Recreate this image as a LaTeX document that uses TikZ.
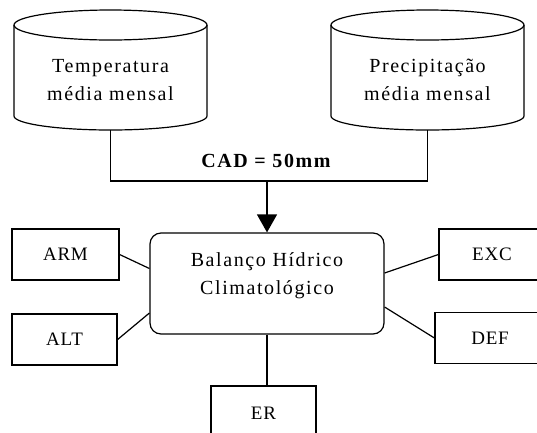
\documentclass[tikz,border=0pt]{standalone}
\usepackage{fontspec}
\setmainfont[LetterSpace=8]{Liberation Serif}
\newfontfamily\boxfont[LetterSpace=4]{Liberation Serif}
\usetikzlibrary{calc,arrows.meta}
\tikzset{
  x=1pt, y=-1pt,
  ln/.style={line width=1.2pt, black},
  lbl/.style={font=\fontsize{20}{28}\selectfont, align=center, inner sep=0pt},
  sbox/.style={ln, draw, rectangle, minimum width=#1, minimum height=51pt, inner sep=0pt, font=\boxfont\fontsize{19}{24}\selectfont},
  bhcbox/.style={ln, draw, rectangle, rounded corners=11pt, minimum width=234pt, minimum height=101pt, inner sep=0pt},
}
\begin{document}
\begin{tikzpicture}
\useasboundingbox (0,0) rectangle (537,432);
\clip (0,0) rectangle (537,432);
% cylinders
\foreach \cx/\nm in {110.5/tc, 427.5/pc}{
  \draw[ln] (\cx,25) ellipse [x radius=96.5, y radius=15];
  \draw[ln] (\cx-96.5,25) -- (\cx-96.5,116) arc[start angle=180, end angle=360, x radius=96.5, y radius=-14] -- (\cx+96.5,25);
  \coordinate (\nm) at (\cx,130);
}
\node[lbl] (tt) at (110.5,80) {Temperatura\\média mensal};
\node[lbl] (pt) at (427.5,80) {Precipitação\\média mensal};
% junction
\coordinate (j) at (267,181);
\draw[ln] (tc) |- (j) -| (pc);
\node[lbl, font=\fontsize{20}{22}\selectfont\bfseries] (cad) at (266,161) {CAD = 50mm};
% central box
\node[bhcbox] (bhc) at (267,283.5) {};
\node[lbl] (bhct) at (267,276) {Balanço Hídrico\\Climatológico};
\draw[ln, -{Triangle[width=20pt,length=18pt]}] (j) -- (bhc.north);
% side boxes
\node[sbox=107pt] (arm) at (65.5,254.5) {ARM};
\node[sbox=105pt] (alt) at (64.5,339.5) {ALT};
\node[sbox=106pt] (exc) at (492,254.5) {EXC};
\node[sbox=110pt] (def) at (490,338) {DEF};
\node[sbox=105pt, minimum height=54pt] (er) at (263.5,413) {ER};
% connectors
\draw[ln] (arm.east) -- ($(bhc.west)+(0,-15)$);
\draw[ln] (alt.east) -- ($(bhc.west)+(0,29.5)$);
\draw[ln] (exc.west) -- ($(bhc.east)+(0,-10.5)$);
\draw[ln] (def.west) -- ($(bhc.east)+(0,23.5)$);
\draw[ln] (bhc.south) -- (bhc.south |- er.north);
\end{tikzpicture}
\end{document}
